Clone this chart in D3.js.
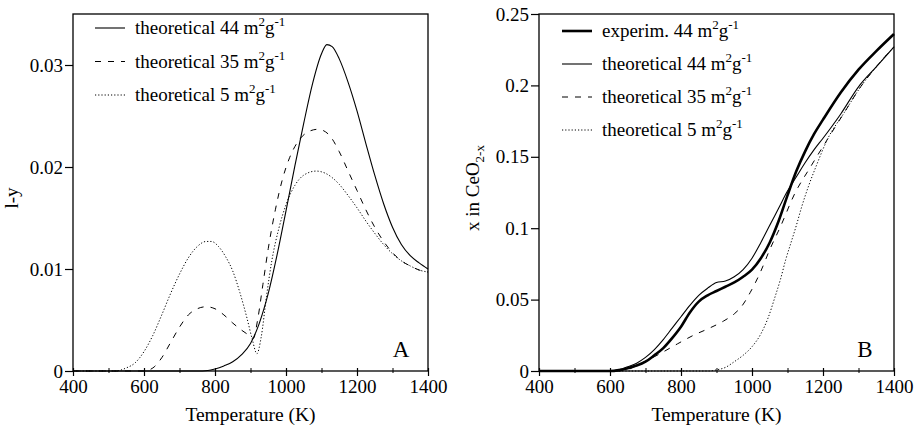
<!DOCTYPE html>
<html><head><meta charset="utf-8">
<script src="https://cdn.jsdelivr.net/npm/d3@7"></script>
<style>
body{margin:0;background:#fff;}
svg text{font-family:"Liberation Serif","DejaVu Serif",serif;fill:#000;}
</style></head>
<body><svg id="c" width="914" height="426"></svg>
<script>
// ---- Panel A data: 1-y vs Temperature (K)
const tempA44 = [400,700,750,780,800,825,850,875,900,925,950,975,1000,1025,1050,1075,1100,1115,1130,1150,1175,1200,1225,1250,1275,1300,1325,1350,1375,1400];
const valA44  = [0,0,0,0.00005,0.0002,0.0005,0.0009,0.0016,0.0027,0.0047,0.0076,0.0114,0.0157,0.0201,0.0243,0.0282,0.0311,0.0320,0.0318,0.0306,0.0283,0.0255,0.0223,0.0192,0.0164,0.0141,0.0124,0.0113,0.0106,0.0100];
const tempA35 = [400,600,625,650,675,700,725,750,775,800,825,850,875,900,908,920,935,950,970,990,1010,1030,1060,1090,1120,1150,1175,1200,1225,1250,1275,1300,1325,1350,1375,1400];
const valA35  = [0,0,0.0003,0.0013,0.0028,0.0043,0.0055,0.0061,0.0063,0.0061,0.0055,0.0047,0.0040,0.0034,0.0032,0.0050,0.0085,0.0120,0.0158,0.0188,0.0209,0.0223,0.0234,0.0237,0.0232,0.0215,0.0196,0.0177,0.0158,0.0141,0.0127,0.0116,0.0108,0.0103,0.0099,0.0097];
const tempA5  = [400,520,550,575,600,625,650,675,700,725,750,775,790,810,830,850,870,890,905,918,930,945,960,980,1000,1025,1050,1085,1110,1150,1175,1200,1225,1250,1275,1300,1325,1350,1375,1400];
const valA5   = [0,0,0.0003,0.0008,0.0019,0.0035,0.0055,0.0076,0.0095,0.0111,0.0122,0.0127,0.0127,0.0122,0.0112,0.0098,0.0077,0.0052,0.0031,0.0017,0.0033,0.0073,0.0108,0.0140,0.0163,0.0182,0.0192,0.0196,0.0194,0.0183,0.0172,0.0160,0.0147,0.0135,0.0124,0.0115,0.0108,0.0103,0.0099,0.0097];

// ---- Panel B data: x in CeO2-x vs Temperature (K)
const tempBexp = [400,600,625,650,675,700,725,750,775,800,825,850,875,900,925,950,975,1000,1025,1050,1075,1100,1125,1150,1175,1200,1250,1300,1350,1400];
const valBexp  = [0,0,0.0006,0.002,0.0038,0.0065,0.011,0.016,0.023,0.031,0.041,0.0486,0.053,0.056,0.059,0.062,0.066,0.071,0.079,0.090,0.105,0.123,0.140,0.154,0.166,0.176,0.195,0.211,0.224,0.236];
const tempB44  = [400,600,625,650,675,700,725,750,775,800,825,850,875,900,925,950,975,1000,1025,1050,1075,1100,1125,1150,1175,1200,1250,1300,1350,1400];
const valB44   = [0,0,0.0008,0.003,0.0055,0.0095,0.015,0.022,0.030,0.038,0.046,0.053,0.058,0.062,0.063,0.066,0.071,0.079,0.090,0.102,0.114,0.126,0.136,0.146,0.155,0.163,0.180,0.199,0.213,0.227];
const tempB35  = [400,620,650,685,740,790,835,880,920,950,970,995,1025,1050,1080,1120,1165,1212,1260,1306,1350,1400];
const valB35   = [0,0,0.001,0.005,0.012,0.019,0.025,0.030,0.035,0.040,0.045,0.055,0.070,0.085,0.101,0.124,0.143,0.162,0.181,0.199,0.213,0.227];
const tempB5   = [400,880,900,925,950,975,1000,1025,1045,1065,1080,1095,1110,1125,1140,1160,1180,1212,1260,1306,1350,1400];
const valB5    = [0,0,0.0008,0.0025,0.0065,0.011,0.017,0.026,0.037,0.052,0.064,0.078,0.090,0.102,0.115,0.130,0.143,0.162,0.181,0.199,0.213,0.227];

const xTicks = [400,600,800,1000,1200,1400];
const xMinor = [500,700,900,1100,1300];
const yTicksA = [0,0.01,0.02,0.03];
const yTicksB = [0,0.05,0.1,0.15,0.2,0.25];
const yTickLabelsB = ["0","0.05","0.1","0.15","0.2","0.25"];
const yTickLabelsA = ["0","0.01","0.02","0.03"];

const legendA = [
  {name:"theoretical 44 ", t:tempA44, v:valA44, w:1.1, dash:null},
  {name:"theoretical 35 ", t:tempA35, v:valA35, w:1.0, dash:"6,7"},
  {name:"theoretical 5 ",  t:tempA5,  v:valA5,  w:1.0, dash:"1.2,2"}
];
const legendB = [
  {name:"experim. 44 ",     t:tempBexp, v:valBexp, w:2.6, dash:null},
  {name:"theoretical 44 ",  t:tempB44,  v:valB44,  w:1.1, dash:null},
  {name:"theoretical 35 ",  t:tempB35,  v:valB35,  w:1.0, dash:"6,7"},
  {name:"theoretical 5 ",   t:tempB5,   v:valB5,   w:1.0, dash:"1.2,2"}
];

const FONT = "Liberation Serif, DejaVu Serif, serif";
const svg = d3.select("#c");

function panel(opt){
  const g = svg.append("g").attr("font-family", FONT);
  const x = d3.scaleLinear().domain([400,1400]).range([opt.left, opt.right]);
  const y = d3.scaleLinear().domain([0, opt.ymax]).range([opt.bottom, opt.top]);

  const line = d3.line().x(d=>x(d[0])).y(d=>y(d[1])).curve(d3.curveMonotoneX);
  opt.series.forEach(s=>{
    const pts = s.t.map((t,i)=>[t,s.v[i]]);
    g.append("path").attr("d", line(pts)).attr("fill","none")
      .attr("stroke","#000").attr("stroke-width", s.w)
      .attr("stroke-dasharray", s.dash);
  });

  g.append("rect").attr("x",opt.left).attr("y",opt.top)
    .attr("width",opt.right-opt.left).attr("height",opt.bottom-opt.top)
    .attr("fill","none").attr("stroke","#000").attr("stroke-width",1.3);

  const xa = g.append("g").attr("transform",`translate(0,${opt.bottom})`)
    .call(d3.axisBottom(x).tickValues(xTicks).tickSize(5).tickPadding(4).tickFormat(d3.format("d")));
  xa.attr("font-family", FONT).attr("font-size",19);
  xa.select(".domain").remove();
  xa.selectAll("line").attr("y1",-3).attr("stroke-width",1.2);
  const xm = g.append("g").attr("transform",`translate(0,${opt.bottom})`)
    .call(d3.axisBottom(x).tickValues(xMinor).tickSize(2).tickFormat(""));
  xm.select(".domain").remove();
  xm.selectAll("line").attr("y1",-3).attr("stroke-width",1);

  const ya = g.append("g").attr("transform",`translate(${opt.left},0)`)
    .call(d3.axisLeft(y).tickValues(opt.yTicks).tickSize(8).tickPadding(2)
      .tickFormat((d,i)=>opt.yLabels[i]));
  ya.attr("font-family", FONT).attr("font-size",19);
  ya.select(".domain").remove();
  ya.selectAll("line").attr("stroke-width",1.2);

  g.append("text").attr("x",(opt.left+opt.right)/2).attr("y",421)
    .attr("text-anchor","middle").attr("font-size",19.5).text("Temperature (K)");

  opt.ytitle(g);

  opt.series.forEach((s,i)=>{
    const yy = opt.legY + i*opt.legDy;
    g.append("line").attr("x1",opt.legX).attr("x2",opt.legX+30)
      .attr("y1",yy).attr("y2",yy).attr("stroke","#000")
      .attr("stroke-width",s.w).attr("stroke-dasharray",s.dash);
    const t = g.append("text").attr("x",opt.legX+40).attr("y",yy+6).attr("font-size",19);
    t.append("tspan").text(s.name+"m");
    t.append("tspan").attr("dy",-8).attr("font-size",13).text("2");
    t.append("tspan").attr("dy",8).text("g");
    t.append("tspan").attr("dy",-8).attr("font-size",13).text("-1");
  });

  g.append("text").attr("x",opt.letX).attr("y",357).attr("text-anchor","middle")
    .attr("font-size",23).text(opt.letter);
}

panel({left:73,right:428,top:14,bottom:371,ymax:0.035,yTicks:yTicksA,yLabels:yTickLabelsA,
  series:legendA, legX:95, legY:28, legDy:33.5, letX:401, letter:"A",
  ytitle:g=>g.append("text").attr("transform","translate(18,198) rotate(-90)")
    .attr("text-anchor","middle").attr("font-size",19).text("l-y")});

panel({left:539,right:894,top:14,bottom:371,ymax:0.25,yTicks:yTicksB,yLabels:yTickLabelsB,
  series:legendB, legX:562, legY:31, legDy:33, letX:865, letter:"B",
  ytitle:g=>{
    const t=g.append("text").attr("transform","translate(479,188) rotate(-90)")
      .attr("text-anchor","middle").attr("font-size",19);
    t.append("tspan").text("x in CeO");
    t.append("tspan").attr("dy",5).attr("font-size",13).text("2-x");
  }});
</script></body></html>
